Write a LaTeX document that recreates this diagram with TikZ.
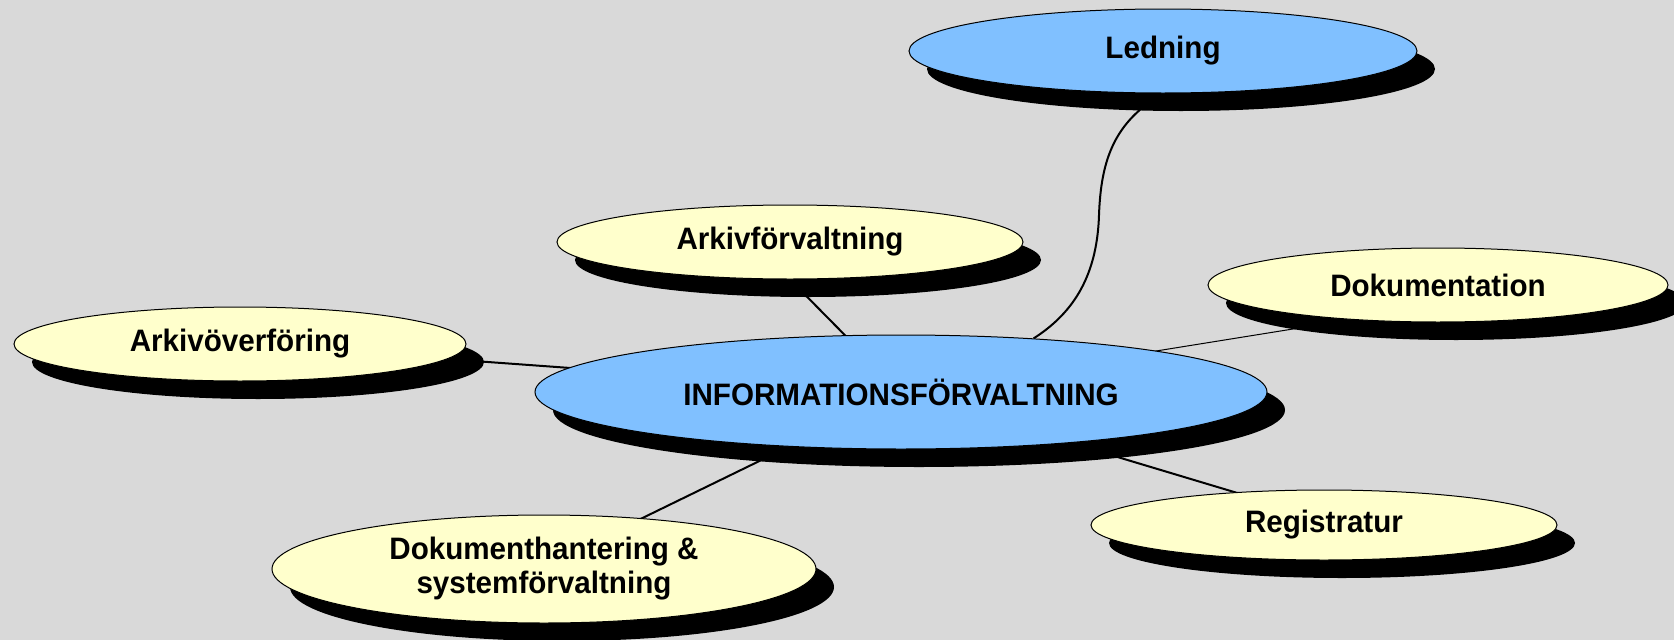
\documentclass[tikz,border=0pt]{standalone}
\usepackage{fontspec}
\setmainfont{Liberation Sans}[FakeStretch=0.955]
\usetikzlibrary{shapes.geometric,shadows,backgrounds}
\definecolor{canvas}{HTML}{D9D9D9}
\definecolor{hubblue}{HTML}{80C0FF}
\definecolor{leafyellow}{HTML}{FFFFCC}
\begin{document}
\begin{tikzpicture}[x=1pt,y=-1pt,
  bubble/.style={ellipse, draw=black, line width=1pt, inner sep=0pt, align=center,
    font=\fontsize{31}{34}\selectfont\bfseries,
    drop shadow={shadow xshift=18pt, shadow yshift=-18pt, opacity=1, fill=black}},
  hub/.style={bubble, fill=hubblue},
  leaf/.style={bubble, fill=leafyellow},
  link/.style={line width=2pt, black},
  thinlink/.style={line width=1pt, black}]
\useasboundingbox (0,0) rectangle (1674,640);

% topic bubbles
\node[hub,  minimum width=508, minimum height=84]  (ledning) at (1163,51)  {Ledning};
\node[leaf, minimum width=466, minimum height=74]  (arkivf)  at (790,242)  {Arkivförvaltning};
\node[leaf, minimum width=460, minimum height=74]  (dokum)   at (1438,285) {Dokumentation};
\node[leaf, minimum width=452, minimum height=74]  (arkivo)  at (240,344)  {Arkivöverföring};
\node[hub,  minimum width=732, minimum height=114] (central) at (901,392)  {INFORMATIONSFÖRVALTNING};
\node[leaf, minimum width=466, minimum height=70]  (registr) at (1324,525) {Registratur};
\node[leaf, minimum width=544, minimum height=108] (dokh)    at (544,569)  {Dokumenthantering \&\\systemförvaltning};

% hidden ends of the straight links, tucked behind the bubbles
\coordinate (dokEnd) at (1380,315);
\coordinate (regEnd) at (1324,519);
\coordinate (dokhEnd) at (544,566);

% canvas and links behind the bubbles
\begin{scope}[on background layer]
  \fill[canvas] (0,0) rectangle (1674,640);
  \draw[link] (central.center) -- (arkivo.center);
  \draw[link] (central.center) -- (arkivf.south);
  \draw[thinlink] (central.center) -- (dokEnd);
  \draw[link] (central.center) -- (regEnd);
  \draw[link] (central.center) -- (dokhEnd);
  \draw[link] (ledning.south) .. controls (1114,122) and (1101,160) .. (1099,215)
              .. controls (1097,280) and (1070,315) .. (central.22);
\end{scope}
\end{tikzpicture}
\end{document}
